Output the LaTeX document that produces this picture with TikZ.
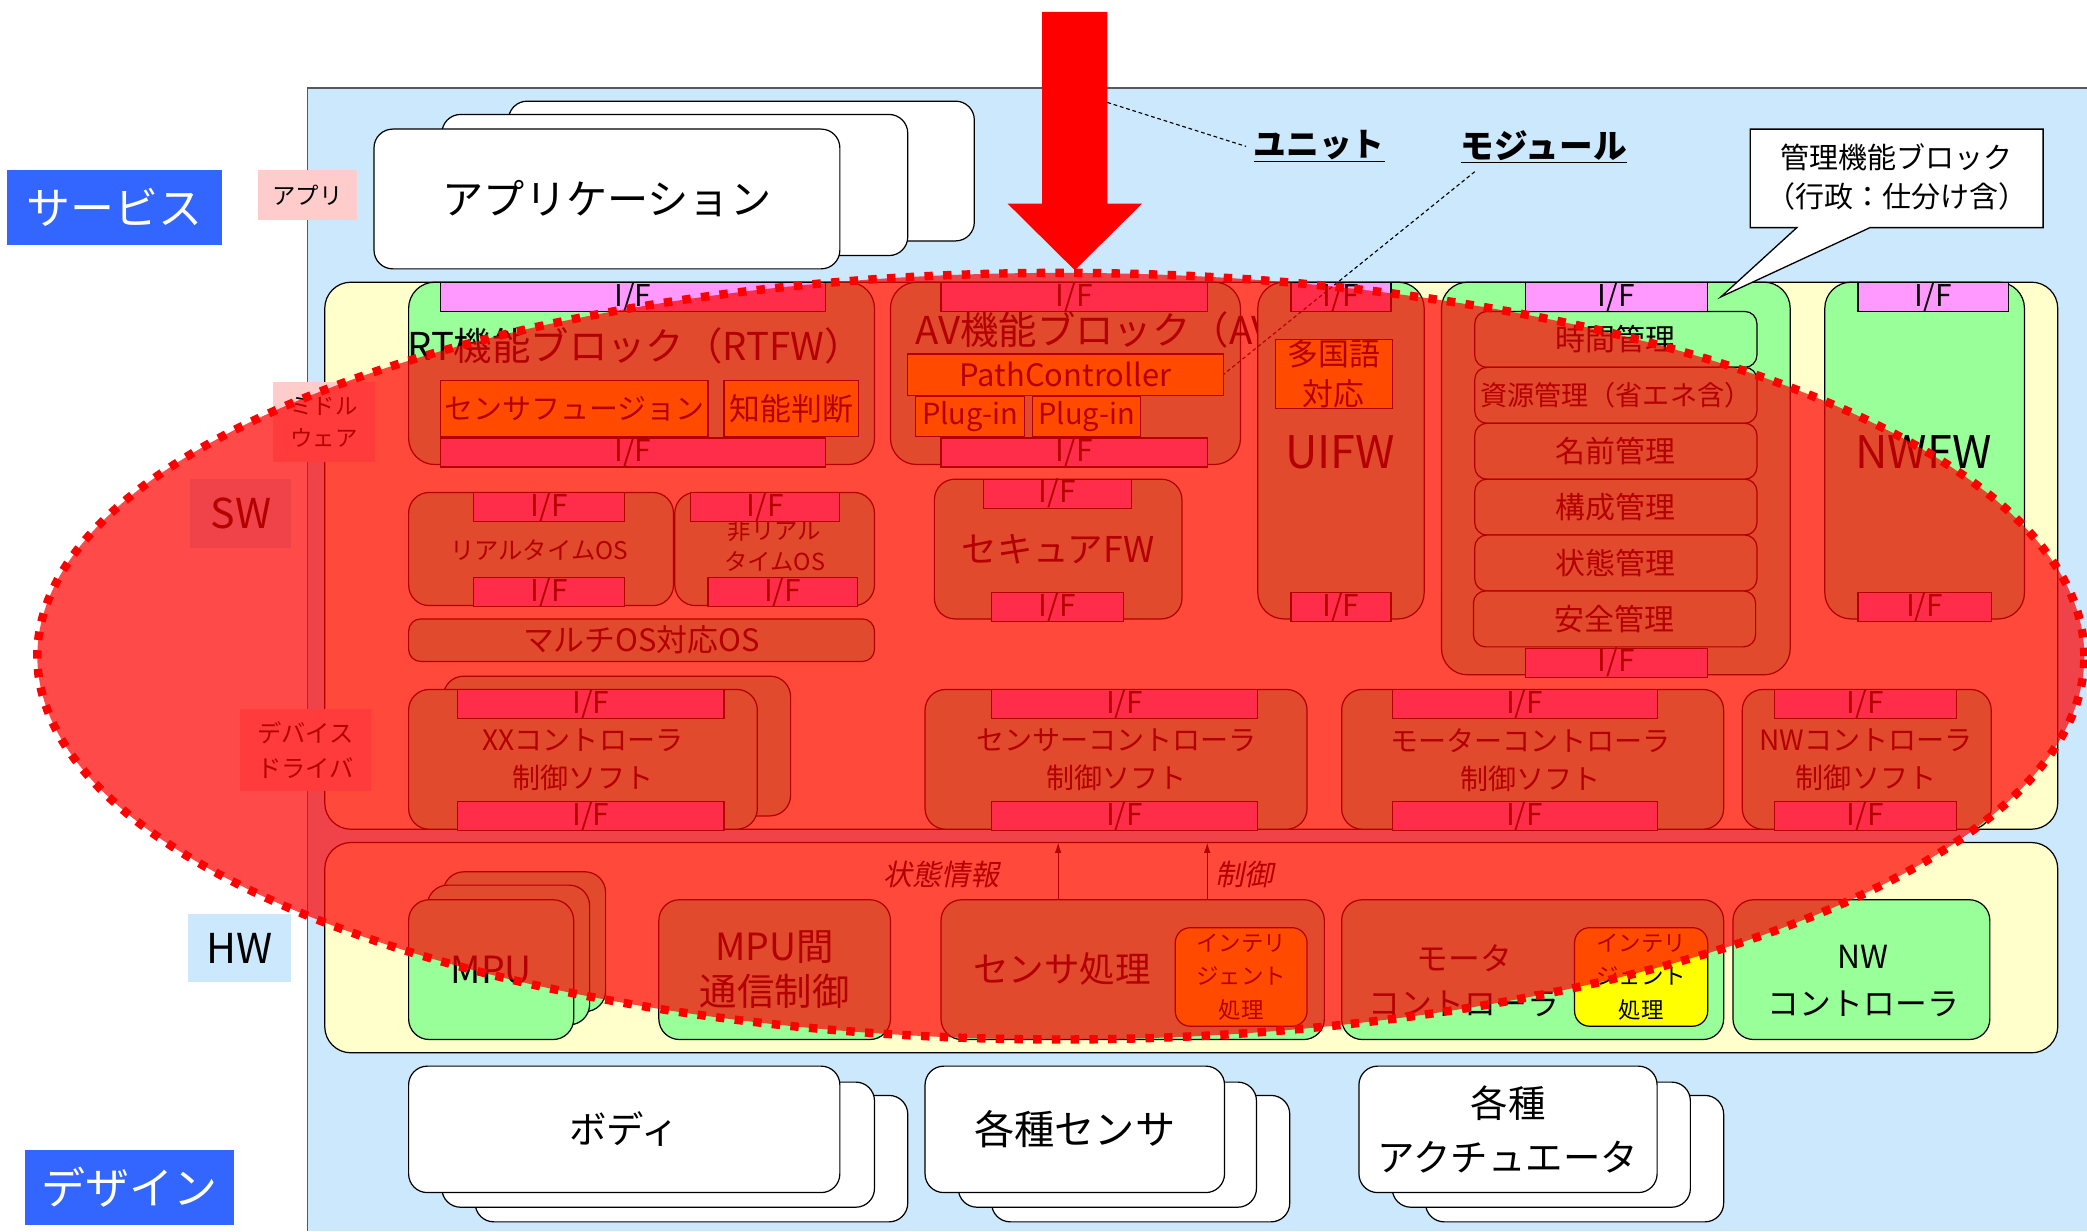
\documentclass[tikz,border=0pt]{standalone}
\usepackage{fontspec}
\setmainfont{Noto Sans CJK JP}
\newfontfamily\jpit{Noto Sans CJK JP}[FakeSlant=0.2]
\usetikzlibrary{arrows.meta}
\definecolor{lblue}{RGB}{204,232,252}
\definecolor{lyel}{RGB}{255,255,204}
\definecolor{lgreen}{RGB}{153,255,153}
\definecolor{mag}{RGB}{255,153,255}
\definecolor{pinkl}{RGB}{255,204,204}
\definecolor{blueb}{RGB}{51,102,255}
\definecolor{yel}{RGB}{255,255,0}
\newcommand\fz[2]{\fontsize{#1pt}{#2pt}\selectfont}
\newcommand\bx[7]{%
  \pgfmathsetmacro\bxw{(#4-#2)*0.05}%
  \pgfmathsetmacro\bxh{(#5-#3)*0.05}%
  \node[#6, anchor=north west, minimum width=\bxw cm, minimum height=\bxh cm] (#1) at (#2,#3) {#7};%
}
\newcommand\fbar[5]{\bx{#1}{#2}{#3}{#4}{#5}{ifb}{I/F}}
\tikzset{
  box/.style={draw=black, line width=1.3pt, inner sep=0pt, outer sep=0pt, align=center, text=black},
  lab/.style={inner sep=0pt, outer sep=0pt, align=center},
  wbox/.style={box, fill=white, rounded corners=20pt},
  gbox/.style={box, fill=lgreen, rounded corners=28pt},
  mgbox/.style={box, fill=lgreen, rounded corners=22pt},
  sgbox/.style={box, fill=lgreen, rounded corners=13pt},
  ybox/.style={box, fill=yel},
  yrbox/.style={box, fill=yel, rounded corners=16pt},
  panel/.style={box, fill=lyel, rounded corners=28pt},
  ifb/.style={box, fill=mag, font=\fz{32}{36}},
  txt/.style={inner sep=0pt, outer sep=0pt, align=center, text=black},
  leader/.style={draw=black, line width=1.2pt, dash pattern=on 4pt off 3pt},
  uparrow/.style={draw=black, line width=1.2pt, -{Latex[length=11pt,width=7pt]}},
}
\begin{document}
\begin{tikzpicture}[x=0.05cm, y=-0.05cm]
\useasboundingbox (0,0) rectangle (1568,925);
\fill[white] (0,0) rectangle (1568,925);
% main light-blue panel
\fill[lblue] (231,66) rectangle (1568,925);
\draw[black!65, line width=1.6pt] (231,925) -- (231,66) -- (1568,66);

% application stack
\bx{app3}{382}{76}{732}{181}{wbox}{}
\bx{app2}{332}{86}{682}{192}{wbox}{}
\bx{app1}{281}{97}{631}{202}{wbox, font=\fz{44}{50}}{アプリケーション}

% big red arrow
\fill[red] (783,9) -- (832,9) -- (832,153) -- (858,153) -- (807.5,203) -- (757,153) -- (783,153) -- cycle;
\coordinate (ushaft) at (832,77);

% middleware panel
\bx{mw}{244}{212}{1546}{623}{panel}{}

% RTFW
\bx{rt}{307}{212}{657}{349}{gbox}{}
\node[txt, font=\fz{41}{46}] (rtT) at (477,260) {RT機能ブロック（RTFW）};
\bx{sf}{331}{286}{532}{328}{ybox, font=\fz{31}{36}}{センサフュージョン}
\bx{ch}{544}{286}{645}{328}{ybox, font=\fz{33}{38}}{知能判断}
\fbar{rtif1}{331}{212}{620}{234}
\fbar{rtif2}{331}{329}{620}{349}

% AVFW
\bx{av}{669}{212}{932}{349}{gbox}{}
\begin{scope}
\clip (669,200) rectangle (945,264);
\node[txt, anchor=west, font=\fz{41}{46}] (avT) at (688,248) {AV機能ブロック（AV};
\end{scope}
\bx{pc}{682}{266}{919}{297}{ybox, font=\fz{33}{38}}{PathController}
\bx{pl1}{688}{298}{770}{328}{ybox, font=\fz{31}{36}}{Plug-in}
\bx{pl2}{776}{298}{857}{328}{ybox, font=\fz{31}{36}}{Plug-in}
\fbar{avif1}{707}{212}{907}{234}
\fbar{avif2}{707}{329}{907}{349}

% UIFW
\bx{ui}{945}{212}{1070}{465}{gbox}{}
\bx{ml}{958}{255}{1046}{307}{ybox, font=\fz{33}{43}}{多国語\\対応}
\node[txt, font=\fz{48}{54}] (uiT) at (1007,340) {UIFW};
\fbar{uiif1}{970}{212}{1045}{234}
\fbar{uiif2}{970}{445}{1045}{465}

% management block
\bx{mg}{1083}{212}{1345}{507}{gbox}{}
\bx{m1}{1108}{234}{1320}{276}{sgbox, font=\fz{32}{36}}{時間管理}
\bx{m2}{1108}{276}{1320}{318}{sgbox, font=\fz{29}{34}}{資源管理（省エネ含）}
\bx{m3}{1108}{318}{1320}{360}{sgbox, font=\fz{32}{36}}{名前管理}
\bx{m4}{1108}{360}{1320}{402}{sgbox, font=\fz{32}{36}}{構成管理}
\bx{m5}{1108}{402}{1320}{444}{sgbox, font=\fz{32}{36}}{状態管理}
\bx{m6}{1107}{444}{1319}{486}{sgbox, font=\fz{32}{36}}{安全管理}
\fbar{mgif1}{1146}{212}{1283}{234}
\fbar{mgif2}{1146}{487}{1283}{507}

% NWFW
\bx{nw}{1371}{212}{1521}{465}{gbox}{}
\node[txt, font=\fz{48}{54}] (nwT) at (1445,340) {NWFW};
\fbar{nwif1}{1396}{212}{1509}{234}
\fbar{nwif2}{1396}{445}{1496}{465}

% OS blocks
\bx{ro}{307}{370}{506}{455}{mgbox}{}
\node[txt, font=\fz{26}{30}] (roT) at (405,413) {リアルタイムOS};
\fbar{roif1}{356}{370}{469}{392}
\fbar{roif2}{356}{434}{469}{455}
\bx{nr}{507}{370}{657}{455}{mgbox}{}
\node[txt, font=\fz{25}{34}] (nrT) at (582,410) {非リアル\\タイムOS};
\fbar{nrif1}{519}{370}{631}{392}
\fbar{nrif2}{532}{434}{644}{455}
\bx{mo}{307}{465}{657}{497}{sgbox, font=\fz{33}{38}}{マルチOS対応OS}

% secure FW
\bx{se}{702}{360}{888}{465}{mgbox}{}
\node[txt, font=\fz{38}{44}] (seT) at (795,413) {セキュアFW};
\fbar{seif1}{739}{360}{850}{381}
\fbar{seif2}{745}{445}{844}{465}

% device drivers
\bx{xxb}{333}{508}{594}{613}{mgbox}{}
\bx{xx}{307}{518}{569}{623}{mgbox}{}
\node[txt, font=\fz{30}{41}] (xxT) at (438,571) {XXコントローラ\\制御ソフト};
\fbar{xxif1}{344}{518}{544}{539}
\fbar{xxif2}{344}{602}{544}{623}
\bx{sc}{695}{518}{982}{623}{mgbox}{}
\node[txt, font=\fz{30}{41}] (scT) at (839,571) {センサーコントローラ\\制御ソフト};
\fbar{scif1}{745}{518}{945}{539}
\fbar{scif2}{745}{602}{945}{623}
\bx{mc}{1008}{518}{1295}{623}{mgbox}{}
\node[txt, font=\fz{30}{41}] (mcT) at (1150,571) {モーターコントローラ\\制御ソフト};
\fbar{mcif1}{1046}{518}{1245}{539}
\fbar{mcif2}{1046}{602}{1245}{623}
\bx{nc}{1309}{518}{1496}{623}{mgbox}{}
\node[txt, font=\fz{30}{41}] (ncT) at (1402,571) {NWコントローラ\\制御ソフト};
\fbar{ncif1}{1333}{518}{1470}{539}
\fbar{ncif2}{1333}{602}{1470}{623}

% HW panel
\bx{hw}{244}{633}{1546}{791}{panel}{}
\bx{mpu3}{333}{655}{455}{760}{mgbox}{}
\bx{mpu2}{321}{665}{443}{770}{mgbox}{}
\bx{mpu1}{307}{676}{431}{781}{mgbox, font=\fz{40}{46}}{MPU}
\bx{mpc}{495}{676}{669}{781}{mgbox, font=\fz{40}{48}}{MPU間\\通信制御}
\bx{sp}{707}{676}{995}{781}{mgbox}{}
\node[txt, font=\fz{38}{44}] (spT) at (798,728) {センサ処理};
\bx{ip1}{883}{697}{982}{771}{yrbox, font=\fz{24}{36}}{インテリ\\ジェント\\処理}
\bx{mh}{1008}{676}{1295}{781}{mgbox}{}
\node[txt, font=\fz{34}{48}] (mhT) at (1100,737) {モータ\\コントローラ};
\bx{ip2}{1183}{697}{1283}{771}{yrbox, font=\fz{24}{36}}{インテリ\\ジェント\\処理}
\bx{nh}{1302}{676}{1495}{781}{mgbox}{}
\node[txt, font=\fz{34}{50}] (nhT) at (1400,737) {NW\\コントローラ};
\coordinate (a1) at (795,0);
\coordinate (a2) at (907,0);
\draw[uparrow] (a1 |- sp.north) -- (a1 |- hw.north);
\draw[uparrow] (a2 |- sp.north) -- (a2 |- hw.north);
\node[txt, font=\jpit\fz{31}{36}] (stT) at (707,657) {状態情報};
\node[txt, font=\jpit\fz{31}{36}] (ctT) at (935,657) {制御};

% bottom stacks
\bx{bd3}{357}{823}{682}{918}{wbox}{}
\bx{bd2}{332}{813}{657}{907}{wbox}{}
\bx{bd1}{307}{801}{631}{896}{wbox, font=\fz{40}{46}}{ボディ}
\bx{ks3}{745}{823}{969}{918}{wbox}{}
\bx{ks2}{720}{813}{944}{907}{wbox}{}
\bx{ks1}{695}{801}{920}{896}{wbox, font=\fz{43}{48}}{各種センサ}
\bx{ac3}{1071}{823}{1295}{918}{wbox}{}
\bx{ac2}{1046}{813}{1270}{907}{wbox}{}
\bx{ac1}{1021}{801}{1245}{896}{wbox, font=\fz{40}{57}}{各種\\アクチュエータ}

% left labels (on top of the panels)
\bx{svc}{5}{128}{167}{184}{lab, fill=blueb, text=white, font=\fz{47}{56}}{サービス}
\bx{appl}{194}{128}{268}{165}{lab, fill=pinkl, font=\fz{25}{30}}{アプリ}
\bx{mwl}{205}{287}{282}{347}{lab, fill=pinkl, font=\fz{24}{34}}{ミドル\\ウェア}
\bx{swl}{143}{360}{219}{412}{lab, fill=lblue, font=\fz{44}{50}}{SW}
\bx{ddl}{180}{533}{279}{594}{lab, fill=pinkl, font=\fz{26}{37}}{デバイス\\ドライバ}
\bx{hwl}{141}{687}{219}{738}{lab, fill=lblue, font=\fz{44}{50}}{HW}
\bx{dsn}{19}{864}{176}{920}{lab, fill=blueb, text=white, font=\fz{47}{56}}{デザイン}

% unit / module labels
\node[txt, font=\bfseries\fz{35}{40}] (unit) at (991,110) {\underline{ユニット}};
\node[txt, font=\bfseries\fz{36}{40}] (mod) at (1160,110) {\underline{モジュール}};
\coordinate (modp) at (1108,129);
\draw[leader] (ushaft) -- ([xshift=-8pt]unit.west);
\draw[leader] (modp) -- (pc.east);

% callout
\draw[fill=white, line width=1.4pt] (1315,97) -- (1535,97) -- (1535,171) -- (1405,171) -- (1293,223) -- (1350,171) -- (1315,171) -- cycle;
\node[txt, font=\fz{31}{41}] (call) at (1425,133) {管理機能ブロック\\（行政：仕分け含）};

% red overlay ellipse
\coordinate (ec) at (797,493);
\fill[red, fill opacity=0.71] (ec) ellipse [x radius=38.45cm, y radius=14.4cm];
\draw[red, line width=9pt, dash pattern=on 9pt off 11pt] (ec) ellipse [x radius=38.45cm, y radius=14.4cm];
\end{tikzpicture}
\end{document}
